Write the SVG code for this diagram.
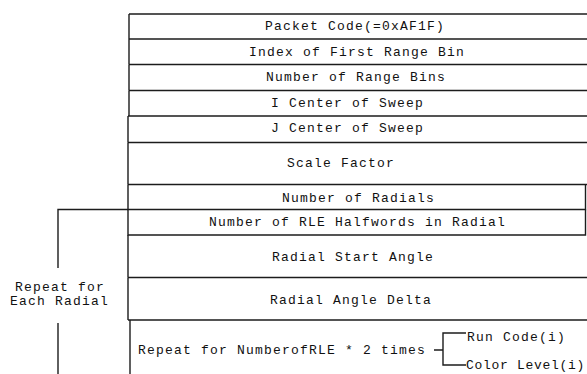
<svg xmlns="http://www.w3.org/2000/svg" width="587" height="374" viewBox="0 0 587 374">
  <style>
    .ln { stroke: #1c1c1c; stroke-width: 1.4; fill: none; }
    .t { font-family: "Liberation Mono", "DejaVu Sans Mono", monospace; font-size: 13px; letter-spacing: 1.2px; fill: #111; }
  </style>
  <rect width="587" height="374" fill="#ffffff"/>

  <!-- packet header fields -->
  <g id="packet-code">
    <path class="ln" d="M129,14 H587 M129,14 V39 M129,39 H587"/>
    <text class="t" x="265" y="30">Packet Code(=0xAF1F)</text>
  </g>
  <g id="first-range-bin">
    <path class="ln" d="M129,39 V64.5 M129,64.5 H587"/>
    <text class="t" x="249" y="56">Index of First Range Bin</text>
  </g>
  <g id="range-bins">
    <path class="ln" d="M129,64.5 V90.5 M129,90.5 H587"/>
    <text class="t" x="266" y="81">Number of Range Bins</text>
  </g>
  <g id="i-center">
    <path class="ln" d="M129,90.5 V116 M128,116 H587"/>
    <text class="t" x="271" y="107">I Center of Sweep</text>
  </g>
  <g id="j-center">
    <path class="ln" d="M128,116 V142.5 M128,142.5 H587"/>
    <text class="t" x="271" y="132">J Center of Sweep</text>
  </g>
  <g id="scale-factor">
    <path class="ln" d="M128,142.5 V184.5 M128,184.5 H587"/>
    <text class="t" x="287" y="167">Scale Factor</text>
  </g>
  <g id="num-radials">
    <path class="ln" d="M128,184.5 V209.5 H585.5 V184.5"/>
    <text class="t" x="282" y="202">Number of Radials</text>
  </g>

  <!-- per-radial fields -->
  <g id="rle-halfwords">
    <path class="ln" d="M128,209.5 V235 H585.5 V209.5"/>
    <text class="t" x="209" y="226">Number of RLE Halfwords in Radial</text>
  </g>
  <g id="start-angle">
    <path class="ln" d="M128,235 V277.5 M128,277.5 H587"/>
    <text class="t" x="272" y="261">Radial Start Angle</text>
  </g>
  <g id="angle-delta">
    <path class="ln" d="M128,277.5 V320 M128,320 H587"/>
    <text class="t" x="270" y="304">Radial Angle Delta</text>
  </g>
  <g id="rle-repeat">
    <path class="ln" d="M130,320 V374"/>
    <text class="t" x="138" y="354">Repeat for NumberofRLE * 2 times</text>
  </g>
  <g id="run-code">
    <text class="t" x="467" y="341">Run Code(i)</text>
  </g>
  <g id="color-level">
    <text class="t" x="466" y="369" style="letter-spacing:0.7px">Color Level(i)</text>
  </g>
  <g id="radial-repeat-label">
    <text class="t" x="15" y="291">Repeat for</text>
    <text class="t" x="10" y="305">Each Radial</text>
  </g>

  <!-- brackets -->
  <g id="connectors">
    <path class="ln" d="M128,209.5 H58 V268"/>
    <path class="ln" d="M58,323 V374"/>
    <path class="ln" d="M434,350 H443 M466,333 H443 V365 H466"/>
  </g>
</svg>
